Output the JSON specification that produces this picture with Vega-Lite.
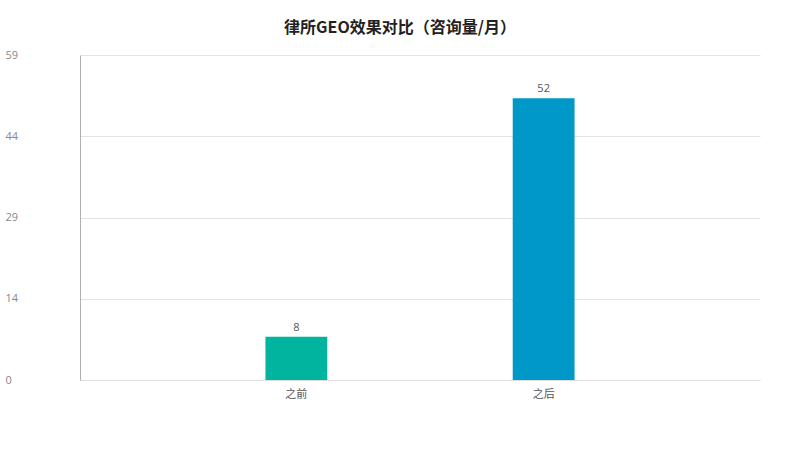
{
  "$schema": "https://vega.github.io/schema/vega-lite/v6.json",
  "width": 680,
  "height": 325,
  "autosize": {"type": "none"},
  "padding": {"left": 80, "top": 55, "right": 40, "bottom": 70},
  "background": "white",
  "title": {
    "text": "律所GEO效果对比（咨询量/月）",
    "font": "Noto Sans CJK SC",
    "fontSize": 16,
    "fontWeight": "bold",
    "color": "#222222",
    "anchor": "middle",
    "dx": -20,
    "offset": 13
  },
  "data": {
    "values": [
      {"period": "之前", "count": 8},
      {"period": "之后", "count": 52}
    ]
  },
  "config": {
    "view": {"stroke": null},
    "font": "Noto Sans CJK SC"
  },
  "encoding": {
    "x": {
      "field": "period",
      "type": "nominal",
      "sort": null,
      "scale": {"paddingInner": 0.75, "paddingOuter": 0.75},
      "axis": {
        "title": null,
        "labelAngle": 0,
        "labelColor": "#555555",
        "labelFontSize": 11,
        "labelFont": "Noto Sans CJK SC",
        "labelPadding": 8,
        "ticks": false,
        "domainColor": "#dddddd",
        "grid": false
      }
    },
    "y": {
      "field": "count",
      "type": "quantitative",
      "scale": {"domain": [0, 60], "nice": false},
      "axis": {
        "title": null,
        "values": [0, 15, 30, 45, 60],
        "labelExpr": "floor(datum.value * 59 / 60)",
        "labelAlign": "left",
        "labelPadding": 75,
        "labelColor": "#888888",
        "labelFontSize": 11,
        "labelFont": "Open Sans",
        "ticks": false,
        "domainColor": "#b0b0b0",
        "gridColor": "#e3e3e3",
        "grid": true
      }
    }
  },
  "layer": [
    {
      "mark": {"type": "bar"},
      "encoding": {
        "color": {
          "field": "period",
          "type": "nominal",
          "scale": {"domain": ["之前", "之后"], "range": ["#00b4a0", "#0097c9"]},
          "legend": null
        }
      }
    },
    {
      "mark": {"type": "text", "baseline": "bottom", "dy": -4, "fontSize": 11, "color": "#555555", "font": "Open Sans"},
      "encoding": {
        "text": {"field": "count", "type": "quantitative"}
      }
    }
  ]
}
